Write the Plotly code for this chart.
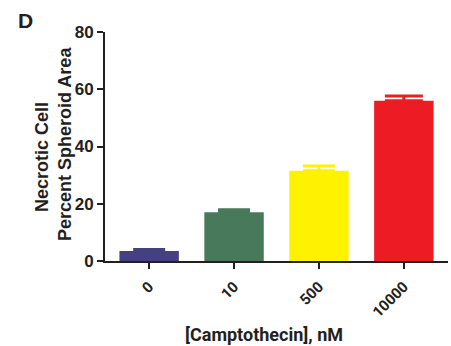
import plotly.graph_objects as go

categories = ["0", "10", "500", "10000"]
values = [3.5, 17.0, 31.5, 56.0]
errors = [0.5, 0.9, 1.7, 1.6]
colors = ["#45407F", "#48795A", "#FFF200", "#ED1C24"]
cap_widths = [16, 16, 16, 19]

# plot area geometry (px)
L, R, T, B = 105, 3, 32, 85
PW, PH = 451 - L - R, 346 - T - B


def px_x(x):
    return (x - L) / PW


def px_y(y):
    return (346 - B - y) / PH


fig = go.Figure()
for c, v, e, col, cw in zip(categories, values, errors, colors, cap_widths):
    fig.add_trace(go.Bar(
        x=[c], y=[v], marker=dict(color=col, line=dict(width=0)),
        width=0.7,
        error_y=dict(type="data", array=[e], arrayminus=[0], symmetric=False,
                     color=col, thickness=3, width=cw),
        showlegend=False,
    ))

txt = "#231F20"
fig.update_layout(
    width=451, height=346,
    margin=dict(l=L, r=R, t=T, b=B),
    plot_bgcolor="white", paper_bgcolor="white",
    barmode="overlay",
    font=dict(family="Liberation Sans, Arial", color=txt),
    xaxis=dict(
        type="category", range=[-0.52, 3.52],
        showline=True, linecolor=txt, linewidth=2,
        ticks="outside", ticklen=6, tickwidth=2, tickcolor=txt,
        tickangle=-45, ticklabelstandoff=3,
        tickfont=dict(family="Roboto", size=15, color=txt, weight="bold"),
        showgrid=False, zeroline=False,
    ),
    yaxis=dict(
        range=[0, 80], tickvals=[0, 20, 40, 60, 80],
        showline=True, linecolor=txt, linewidth=2,
        ticks="outside", ticklen=6, tickwidth=2, tickcolor=txt,
        tickfont=dict(family="Liberation Sans, Arial", size=17, color=txt, weight="bold"),
        showgrid=False, zeroline=False,
    ),
    annotations=[
        dict(text="D", xref="paper", yref="paper", x=px_x(16), y=px_y(20),
             xanchor="left", yanchor="middle", showarrow=False,
             font=dict(family="Liberation Sans, Arial", size=21, weight="bold", color=txt)),
        dict(text="Necrotic Cell", xref="paper", yref="paper",
             x=px_x(42), y=px_y(157), textangle=-90,
             xanchor="center", yanchor="middle", showarrow=False,
             font=dict(family="Liberation Sans, Arial", size=18, weight="bold", color=txt)),
        dict(text="Percent Spheroid Area", xref="paper", yref="paper",
             x=px_x(65), y=px_y(144), textangle=-90,
             xanchor="center", yanchor="middle", showarrow=False,
             font=dict(family="Liberation Sans, Arial", size=18, weight="bold", color=txt)),
        dict(text="[Camptothecin], nM", xref="paper", yref="paper",
             x=px_x(264), y=px_y(334),
             xanchor="center", yanchor="middle", showarrow=False,
             font=dict(family="Roboto", size=18, weight="bold", color=txt)),
    ],
)

fig.write_html("out.html", config={"displayModeBar": False},
               post_script="document.body.style.margin='0';document.body.style.overflow='hidden';")
